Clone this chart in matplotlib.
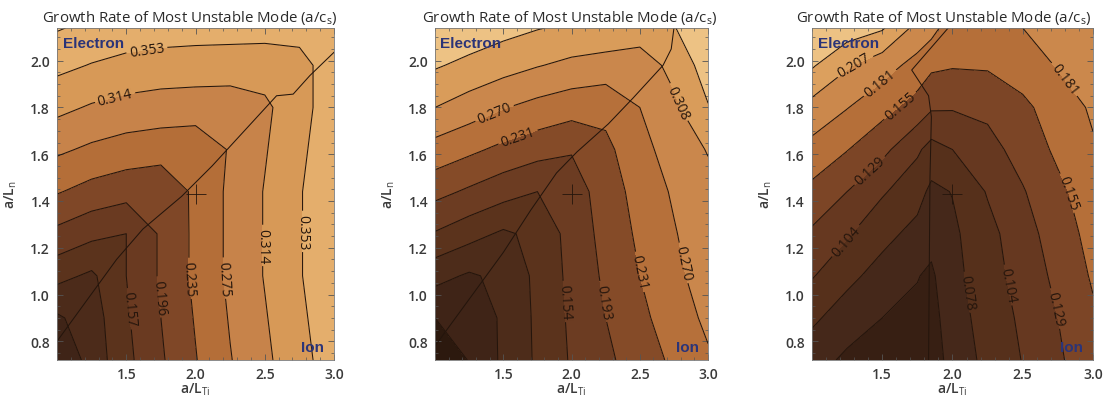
import matplotlib
matplotlib.use("Agg")
import matplotlib.pyplot as plt
from matplotlib.colors import LinearSegmentedColormap, Normalize
from matplotlib.ticker import MultipleLocator

plt.rcParams['font.family'] = ['Open Sans', 'DejaVu Sans']
plt.rcParams['mathtext.fontset'] = 'custom'
plt.rcParams['mathtext.rm'] = 'Open Sans'
plt.rcParams['mathtext.it'] = 'Open Sans'

# grid of a/L_Ti (x) and a/L_n (y) values
x_12 = [1.0, 1.25, 1.5, 1.75, 2.0, 2.25, 2.5, 2.75, 3.0]
x_3 = [1.0, 1.25, 1.5, 1.75, 1.85, 2.0, 2.25, 2.5, 2.75, 3.0]
y_grid = [0.72, 0.90, 1.08, 1.26, 1.44, 1.62, 1.80, 1.98, 2.14]

# growth rate of most unstable mode (a/c_s), rows follow y_grid
gamma_1 = [
    [0.040, 0.094, 0.147, 0.191, 0.233, 0.273, 0.306, 0.340, 0.373],
    [0.072, 0.099, 0.152, 0.196, 0.238, 0.278, 0.311, 0.345, 0.378],
    [0.130, 0.111, 0.157, 0.201, 0.243, 0.283, 0.316, 0.350, 0.383],
    [0.186, 0.167, 0.157, 0.201, 0.243, 0.283, 0.316, 0.350, 0.383],
    [0.238, 0.221, 0.210, 0.204, 0.243, 0.283, 0.316, 0.350, 0.383],
    [0.282, 0.268, 0.258, 0.253, 0.250, 0.278, 0.311, 0.345, 0.378],
    [0.324, 0.310, 0.301, 0.296, 0.294, 0.293, 0.306, 0.340, 0.373],
    [0.363, 0.351, 0.342, 0.337, 0.335, 0.334, 0.333, 0.340, 0.373],
    [0.395, 0.383, 0.375, 0.371, 0.369, 0.368, 0.367, 0.367, 0.373],
]
gamma_2 = [
    [0.005, 0.041, 0.084, 0.122, 0.158, 0.185, 0.212, 0.238, 0.265],
    [0.039, 0.042, 0.085, 0.123, 0.161, 0.193, 0.222, 0.250, 0.278],
    [0.090, 0.072, 0.087, 0.125, 0.164, 0.200, 0.231, 0.260, 0.289],
    [0.151, 0.130, 0.110, 0.126, 0.168, 0.206, 0.238, 0.267, 0.296],
    [0.205, 0.187, 0.169, 0.154, 0.173, 0.212, 0.245, 0.275, 0.298],
    [0.255, 0.239, 0.222, 0.208, 0.196, 0.222, 0.256, 0.289, 0.310],
    [0.308, 0.290, 0.272, 0.258, 0.247, 0.242, 0.270, 0.300, 0.345],
    [0.351, 0.337, 0.323, 0.310, 0.299, 0.293, 0.287, 0.320, 0.365],
    [0.385, 0.372, 0.360, 0.349, 0.340, 0.335, 0.330, 0.345, 0.380],
]
gamma_3 = [
    [0.063, 0.047, 0.048, 0.045, 0.038, 0.062, 0.085, 0.105, 0.125, 0.146],
    [0.083, 0.065, 0.052, 0.047, 0.042, 0.067, 0.088, 0.109, 0.129, 0.151],
    [0.106, 0.085, 0.068, 0.053, 0.048, 0.070, 0.093, 0.114, 0.135, 0.158],
    [0.125, 0.107, 0.086, 0.070, 0.060, 0.073, 0.096, 0.119, 0.141, 0.164],
    [0.148, 0.129, 0.107, 0.088, 0.072, 0.079, 0.106, 0.127, 0.149, 0.169],
    [0.173, 0.156, 0.136, 0.108, 0.095, 0.104, 0.120, 0.139, 0.160, 0.178],
    [0.198, 0.182, 0.164, 0.144, 0.132, 0.131, 0.135, 0.150, 0.166, 0.185],
    [0.236, 0.210, 0.192, 0.172, 0.160, 0.157, 0.158, 0.166, 0.183, 0.197],
    [0.259, 0.247, 0.236, 0.199, 0.190, 0.166, 0.170, 0.181, 0.195, 0.207],
]

levels_1 = [0.039, 0.078, 0.118, 0.157, 0.196, 0.235, 0.275, 0.314, 0.353, 0.392]
levels_2 = [0.039, 0.077, 0.116, 0.154, 0.193, 0.231, 0.270, 0.308, 0.347]
levels_3 = [0.026, 0.052, 0.078, 0.104, 0.129, 0.155, 0.181, 0.207, 0.233]

# electron / ion mode boundary
bound_1_x = [1.0, 1.43, 1.62, 1.90, 2.12, 2.585, 2.705, 2.825, 3.0]
bound_1_y = [0.80, 1.15, 1.28, 1.42, 1.55, 1.85, 1.857, 1.936, 2.036]
bound_2_x = [1.0, 1.25, 1.5, 1.7, 1.89, 2.04, 2.27, 2.45, 2.67, 2.73, 2.75]
bound_2_y = [0.78, 0.98, 1.18, 1.36, 1.52, 1.61, 1.73, 1.84, 1.98, 2.05, 2.14]
bound_3_x = [1.97, 1.71, 1.83, 1.85, 1.84, 1.83]
bound_3_y = [2.14, 1.96, 1.85, 1.76, 1.50, 0.72]

# contour label spots
lab_1 = [(1.65, 2.04), (1.43, 1.82), (2.77, 1.27), (2.47, 1.21), (2.20, 1.07),
         (1.97, 1.07), (1.74, 0.99), (1.54, 0.94)]
lab_2 = [(1.44, 1.77), (1.61, 1.67), (2.82, 1.83), (2.86, 1.14), (2.53, 1.10),
         (2.23, 0.97), (1.94, 0.97)]
lab_3 = [(1.31, 1.97), (1.49, 1.90), (1.61, 1.82), (1.38, 1.55), (1.24, 1.23),
         (2.11, 1.01), (2.39, 1.04), (2.73, 0.94), (2.79, 1.43), (2.82, 1.93)]

cmap = LinearSegmentedColormap.from_list("brown", [
    (0.0, "#2c190e"), (0.2, "#46281a"), (0.32, "#57311b"), (0.42, "#663820"),
    (0.53, "#7c4526"), (0.58, "#94552c"), (0.64, "#b46e38"), (0.74, "#c8844a"),
    (0.84, "#d89a58"), (0.93, "#e4ad6b"), (1.0, "#edc284")])

panels = [
    (x_12, gamma_1, levels_1, (0.0, 0.40), bound_1_x, bound_1_y, lab_1,
     [0.0516, 0.102, 0.2507, 0.826], 0.48),
    (x_12, gamma_2, levels_2, (0.0, 0.385), bound_2_x, bound_2_y, lab_2,
     [0.3937, 0.102, 0.2471, 0.826], 0.495),
    (x_3, gamma_3, levels_3, (0.02, 0.25), bound_3_x, bound_3_y, lab_3,
     [0.7348, 0.102, 0.2543, 0.826], 0.47),
]

fig = plt.figure(figsize=(11.05, 4.02), dpi=100)
for xs, z, lev, (vmin, vmax), bx, by, labs, pos, tx in panels:
    ax = fig.add_axes(pos)
    norm = Normalize(vmin=vmin, vmax=vmax)
    fill_lev = [-1.0] + lev + [1.0]
    ax.contourf(xs, y_grid, z, levels=fill_lev, cmap=cmap, norm=norm)
    cs = ax.contour(xs, y_grid, z, levels=lev, colors="#24150c", linewidths=0.75)
    ax.clabel(cs, fmt="%.3f", fontsize=10, inline=True, inline_spacing=3, manual=labs)
    ax.plot(bx, by, color="#24150c", lw=0.75)
    ax.plot([2.0], [1.43], marker="+", ms=14, mew=0.6, color="#24150c")
    ax.set_xlim(1.0, 3.0)
    ax.set_ylim(0.72, 2.14)
    ax.set_xticks([1.5, 2.0, 2.5, 3.0])
    ax.set_yticks([0.8, 1.0, 1.2, 1.4, 1.6, 1.8, 2.0])
    ax.xaxis.set_minor_locator(MultipleLocator(0.1))
    ax.yaxis.set_minor_locator(MultipleLocator(0.05))
    ax.tick_params(which="both", direction="in", top=True, right=True, color="#555555",
                   labelsize=10, labelcolor="#3a3a3a", pad=5)
    ax.tick_params(which="major", length=4, width=0.6)
    ax.tick_params(which="minor", length=2, width=0.5)
    for lbl in ax.get_xticklabels() + ax.get_yticklabels():
        lbl.set_fontweight("semibold")
    for sp in ax.spines.values():
        sp.set_color("#777777")
        sp.set_linewidth(0.6)
    ax.set_title(r"Growth Rate of Most Unstable Mode (a/c$_{\mathrm{s}}$)", fontsize=10.8,
                 color="#2a2a2a", pad=5, x=tx)
    ax.set_xlabel(r"a/L$_{\mathrm{Ti}}$", fontsize=10, fontweight="semibold", color="#3a3a3a", labelpad=0)
    ax.set_ylabel(r"a/L$_{\mathrm{n}}$", fontsize=10, fontweight="semibold", color="#3a3a3a", labelpad=8)
    ax.text(0.02, 0.955, "Electron", transform=ax.transAxes, fontsize=11, fontweight="bold",
            color="#2b3478", ha="left", va="center", family=["Liberation Sans", "DejaVu Sans"])
    ax.text(0.965, 0.04, "Ion", transform=ax.transAxes, fontsize=11, fontweight="bold",
            color="#2b3478", ha="right", va="center", family=["Liberation Sans", "DejaVu Sans"])

fig.savefig("out.png", dpi=100)
